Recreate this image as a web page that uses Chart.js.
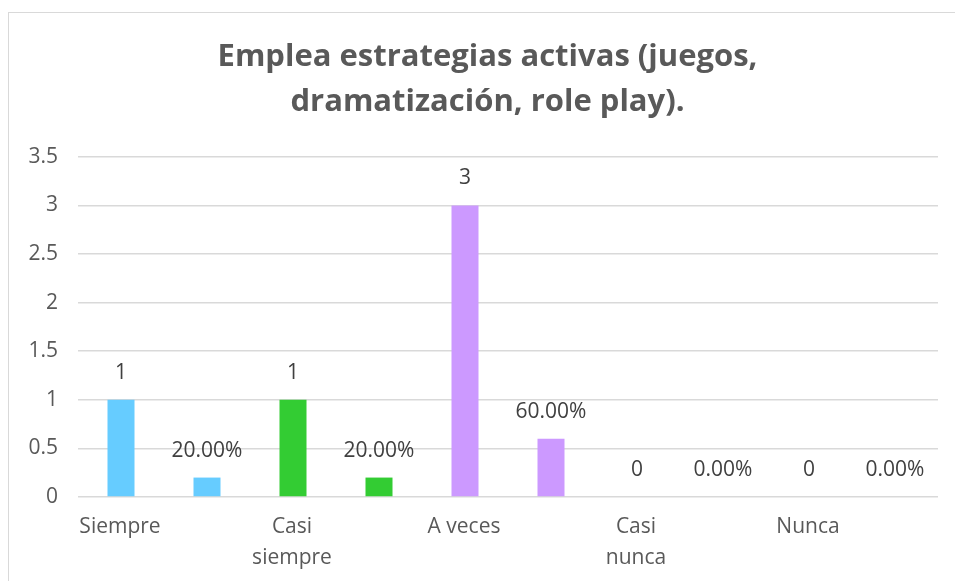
<!DOCTYPE html>
<html><head><meta charset="utf-8">
<script src="https://cdn.jsdelivr.net/npm/chart.js@4.4.0/dist/chart.umd.min.js"></script>
<style>
html,body{margin:0;padding:0;background:#fff;overflow:hidden;}
#wrap{position:relative;width:955px;height:581px;overflow:hidden;}
#frame{position:absolute;left:8px;top:12px;width:960px;height:600px;border-left:1px solid #d9d9d9;border-top:1px solid #d9d9d9;}
canvas{position:absolute;left:0;top:0;}
</style></head><body>
<div id="wrap"><div id="frame"></div><canvas id="c" width="975" height="581"></canvas></div>
<script>
const categories = [["Siempre"], ["Casi", "siempre"], ["A veces"], ["Casi", "nunca"], ["Nunca"]];
const counts = [1, 1, 3, 0, 0];
const percents = [0.2, 0.2, 0.6, 0, 0];
const yTicks = [0, 0.5, 1, 1.5, 2, 2.5, 3, 3.5];
const titleLines = ["Emplea estrategias activas (juegos,", "dramatización, role play)."];
const colors = ["#66CCFF", "#33CC33", "#CC99FF", "#FF9966", "#FFCC00"];

const FONT = "'Open Sans', 'Liberation Sans', sans-serif";

const labelPlugin = {
  id: 'barLabels',
  afterDatasetsDraw(chart) {
    const ctx = chart.ctx;
    ctx.save();
    ctx.font = "21px " + FONT;
    ctx.fillStyle = "#404040";
    ctx.textAlign = "center";
    ctx.textBaseline = "middle";
    chart.data.datasets.forEach((ds, di) => {
      const meta = chart.getDatasetMeta(di);
      meta.data.forEach((bar, i) => {
        const v = ds.data[i];
        const txt = di === 0 ? String(v) : (v * 100).toFixed(2) + "%";
        ctx.fillText(txt, bar.x, bar.y - 27);
      });
    });
    ctx.restore();
  }
};

new Chart(document.getElementById('c'), {
  type: 'bar',
  data: {
    labels: categories,
    datasets: [
      { label: 'Frecuencia', data: counts, backgroundColor: colors, categoryPercentage: 1.0, barPercentage: 0.314 },
      { label: 'Porcentaje', data: percents, backgroundColor: colors, categoryPercentage: 1.0, barPercentage: 0.314 }
    ]
  },
  options: {
    responsive: false,
    animation: false,
    devicePixelRatio: 1,
    layout: { padding: 0 },
    plugins: {
      legend: { display: false },
      tooltip: { enabled: false },
      title: {
        display: true,
        text: titleLines,
        color: "#595959",
        font: { family: FONT, size: 31, weight: 'bold', lineHeight: 1.45 },
        padding: { top: 35, bottom: 32 }
      }
    },
    scales: {
      x: {
        grid: { display: false, drawTicks: false },
        border: { display: false },
        ticks: { color: "#595959", font: { family: FONT, size: 21, lineHeight: 1.48 }, padding: 14, labelOffset: -44, maxRotation: 0, autoSkip: false },
        afterFit(s) { s.height = 84; }
      },
      y: {
        min: 0, max: 3.5,
        afterBuildTicks(s) { s.ticks = yTicks.map(v => ({ value: v })); },
        grid: { color: "#d9d9d9", lineWidth: 1.5, drawTicks: false },
        border: { display: false },
        ticks: { color: "#595959", font: { family: FONT, size: 21 }, padding: 20, callback: v => String(v) },
        afterFit(s) { s.width = 78; }
      },
      spacer: {
        type: 'linear',
        position: 'right',
        display: true,
        grid: { display: false, drawTicks: false },
        border: { display: false },
        ticks: { display: false },
        afterFit(s) { s.width = 37; }
      }
    }
  },
  plugins: [labelPlugin]
});
</script>
</body></html>
